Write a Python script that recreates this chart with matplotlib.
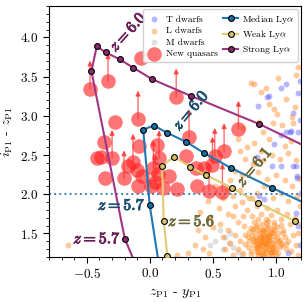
import matplotlib
matplotlib.use('Agg')
import matplotlib.pyplot as plt
import matplotlib.patheffects as pe
import numpy as np

plt.rcParams['font.family'] = 'serif'
plt.rcParams['font.serif'] = ['cmr10', 'DejaVu Serif']
plt.rcParams['mathtext.fontset'] = 'cm'
plt.rcParams['axes.formatter.use_mathtext'] = True
plt.rcParams['axes.unicode_minus'] = True

# colour tracks (zP1-yP1, iP1-zP1), markers every dz=0.1
median_x = [0.063, 0.000, -0.052, 0.032, 0.140, 0.290, 0.431, 0.643, 0.971, 1.206]
median_y = [1.205, 1.859, 2.824, 2.876, 2.782, 2.667, 2.526, 2.337, 2.081, 1.906]
median_mark = [False, True, True, True, True, True, True, True, True, False]

weak_x = [0.140, 0.111, 0.098, 0.193, 0.320, 0.450, 0.653, 0.860, 1.151, 1.300]
weak_y = [1.214, 1.654, 2.363, 2.478, 2.350, 2.240, 2.081, 1.888, 1.658, 1.540]
weak_mark = [True, True, True, True, True, True, True, True, True, False]

strong_x = [-0.137, -0.198, -0.463, -0.421, -0.349, -0.240, -0.129, 0.021, 0.328, 0.871, 1.250]
strong_y = [1.200, 1.432, 3.568, 3.885, 3.808, 3.722, 3.612, 3.465, 3.253, 2.894, 2.600]
strong_mark = [False, True, True, True, True, True, True, True, True, True, False]

# new quasars; lim = lower limit on iP1-zP1
qso_x = [-0.474, -0.331, -0.066, -0.093, -0.278, 0.210, 0.704, -0.367, -0.299, -0.415,
         -0.389, -0.352, -0.204, -0.133, -0.082, 0.061, -0.169, -0.098, -0.061, -0.093,
         0.029, 0.074, 0.066, 0.008, 0.109, 0.153, 0.220, 0.590, 0.516, 0.498,
         0.431, 0.365, 0.577, 0.471, 0.373, 0.312, 0.286, 0.045]
qso_y = [3.346, 3.440, 3.740, 2.962, 2.919, 3.244, 2.833, 2.671, 2.462, 2.462,
         2.474, 2.205, 2.201, 2.414, 2.612, 2.628, 2.363, 2.308, 2.227, 2.106,
         2.329, 2.458, 2.256, 2.106, 2.081, 2.227, 2.064, 2.547, 2.487, 2.376,
         2.333, 2.333, 2.035, 2.042, 2.106, 2.727, 2.491, 2.150]
qso_lim = [1, 1, 0, 1, 0, 1, 1, 0, 1, 0,
           0, 0, 1, 1, 0, 0, 0, 0, 0, 0,
           1, 1, 0, 0, 0, 0, 0, 1, 1, 1,
           0, 0, 1, 1, 0, 1, 0, 1]

t_x = [1.04, 1.085, 0.944, 0.86, 1.18, 1.137, 1.085, 1.11, 1.04, 1.18, 1.12, 0.934, 0.974, 1.04,
       1.16, 0.855, 1.17, 1.14, 1.17, 1.20, 1.16, 1.18, 0.907, 0.87, 1.19, 1.19, 0.99, 1.19, 1.10]
t_y = [3.35, 3.40, 3.25, 3.12, 3.29, 3.03, 2.79, 2.79, 2.75, 2.79, 2.81, 3.24, 2.36, 2.36,
       2.36, 2.47, 2.21, 2.36, 2.23, 2.02, 1.76, 1.59, 1.94, 1.98, 3.45, 2.95, 2.64, 1.35, 1.25]

l_x = [1.18, 1.02, 0.83, 0.88, 0.80, 0.92, 1.08, 1.15, 0.99, 0.95, 0.98, 1.14, 1.05, 0.90, 0.95,
       0.83, 1.07, 1.12, 0.88, 0.77, 0.70, 0.76, 0.82, 0.90, 0.97, 1.03, 1.10, 1.16, 0.68, 0.73,
       0.86, 0.93, 1.00, 1.07, 1.13, 1.19, 0.61, 0.46, 0.52, 0.58, 0.66, 0.72, 0.79, 0.85, 0.91,
       0.98, 1.04, 1.10, 1.17, 0.40, 0.48, 0.55, 0.62, 0.68, 0.74, 1.15, 1.19, 0.38, 0.44, 0.50,
       0.42, 0.36, 0.30, 0.47, -0.65, 0.22, 1.18, 0.72, 0.64, 1.13, 1.01, 0.87, 0.74, 1.16,
       0.90, 0.93, 0.88, 0.95, 0.85, 0.98, 1.00, 0.92, 0.87, 0.96, 0.82, 0.80, 1.03, 1.05, 0.99,
       0.91, 0.84, 0.78, 0.76, 1.02, 1.08, 1.07, 0.94, 0.89, 1.01, 0.86, 0.97, 0.74, 0.72, 0.79,
       0.83, 0.92, 0.99, 1.06, 1.10, 1.12, 0.70, 0.68, 0.75, 0.81, 0.88, 0.96, 1.04, 1.11, 1.14,
       0.66, 0.64, 0.62, 0.70, 0.77, 0.85, 0.93, 1.01, 1.09, 0.89, 0.93, 0.87, 0.95, 0.91, 0.84,
       0.97, 1.00, 0.90, 0.86, 0.94, 0.82, 0.88, 0.96, 1.04, 0.79, 0.92, 0.85, 0.99, 0.89, 0.83,
       1.02, 0.58, 0.60, 1.16, 1.18, 0.56, 0.66, 0.73, 0.81,
       0.91, 0.94, 0.97, 0.89, 0.86, 0.92, 0.95, 0.98, 0.88, 0.84, 0.90, 0.93, 0.96, 1.01, 0.87,
       0.81, 0.85, 0.92, 0.99, 1.03, 0.94, 0.90, 0.86, 0.97, 1.00, 0.83, 0.88, 0.95, 0.91, 0.78,
       0.80, 0.84, 0.89, 0.93, 0.98, 1.06, 1.02, 0.96, 0.87, 0.92, 0.76, 0.82, 0.94, 1.08, 0.99,
       0.88, 0.91, 0.95, 0.85, 0.93, 0.97, 0.90, 1.04, 0.80, 0.86]
l_y = [3.62, 3.48, 3.40, 3.30, 3.42, 3.36, 3.22, 3.11, 3.09, 3.15, 2.91, 2.91, 2.88, 2.79, 2.71,
       2.66, 2.62, 2.68, 2.55, 2.60, 2.70, 2.45, 2.38, 2.44, 2.50, 2.45, 2.52, 2.44, 2.30, 2.25,
       2.28, 2.20, 2.25, 2.18, 2.10, 2.20, 2.05, 1.92, 2.10, 1.95, 1.98, 2.05, 1.95, 2.02, 2.10,
       1.95, 2.02, 1.92, 1.98, 1.78, 1.70, 1.82, 1.75, 1.85, 1.72, 1.70, 1.85, 1.55, 1.45, 1.58,
       1.30, 1.35, 1.25, 1.25, 1.355, 1.22, 1.50, 2.55, 2.18, 2.98, 3.02, 2.92, 2.85, 3.52,
       1.40, 1.35, 1.30, 1.45, 1.42, 1.38, 1.30, 1.25, 1.50, 1.52, 1.35, 1.28, 1.42, 1.35, 1.47,
       1.55, 1.58, 1.45, 1.36, 1.25, 1.30, 1.45, 1.60, 1.62, 1.58, 1.22, 1.22, 1.25, 1.40, 1.52,
       1.65, 1.68, 1.65, 1.55, 1.40, 1.28, 1.30, 1.48, 1.60, 1.72, 1.75, 1.74, 1.68, 1.62, 1.48,
       1.22, 1.38, 1.55, 1.65, 1.80, 1.85, 1.82, 1.80, 1.75, 1.34, 1.43, 1.38, 1.30, 1.48, 1.46,
       1.42, 1.36, 1.28, 1.33, 1.38, 1.43, 1.45, 1.33, 1.38, 1.40, 1.32, 1.27, 1.28, 1.56, 1.52,
       1.50, 1.45, 1.30, 1.35, 1.22, 1.62, 1.72, 1.90, 1.95,
       1.37, 1.41, 1.34, 1.43, 1.37, 1.29, 1.47, 1.50, 1.24, 1.31, 1.53, 1.57, 1.26, 1.44, 1.55,
       1.47, 1.61, 1.63, 1.61, 1.33, 1.21, 1.21, 1.26, 1.56, 1.23, 1.40, 1.41, 1.49, 1.45, 1.33,
       1.57, 1.38, 1.48, 1.52, 1.32, 1.50, 1.40, 1.27, 1.44, 1.36, 1.48, 1.56, 1.66, 1.37, 1.54,
       1.35, 1.39, 1.42, 1.31, 1.47, 1.26, 1.24, 1.61, 1.24, 1.69]

m_x = [0.556, 0.60, 0.63, 0.66, 0.58, 0.70, 0.52, 0.64, 0.73, 0.48]
m_y = [1.54, 1.45, 1.38, 1.33, 1.30, 1.27, 1.40, 1.50, 1.22, 1.35]

fig = plt.figure(figsize=(3.08, 3.02), dpi=100)
ax = fig.add_axes([0.159, 0.149, 0.818, 0.831])

ax.scatter(m_x, m_y, s=18, color='grey', alpha=0.25, lw=0, label='M dwarfs', zorder=1)
ax.scatter(t_x, t_y, s=18, color='#3030ff', alpha=0.35, lw=0, label='T dwarfs', zorder=1)
ax.scatter(l_x, l_y, s=18, color='#ff7f0e', alpha=0.42, lw=0, label='L dwarfs', zorder=1)

ax.axhline(2.0, color='#3a86c0', ls=':', lw=1.4, zorder=2)

qx = np.array(qso_x)
qy = np.array(qso_y)
lim = np.array(qso_lim, dtype=bool)
ax.scatter(qx, qy, s=110, color='#ff2020', alpha=0.62, lw=0, label='New quasars', zorder=2)
for x, y in zip(qx[lim], qy[lim]):
    ax.annotate('', xy=(x, y + 0.36), xytext=(x, y),
                arrowprops=dict(arrowstyle='-|>', color='#ff3030', alpha=0.7, lw=1.0,
                                mutation_scale=7, shrinkA=0, shrinkB=0), zorder=2)

def track(xs, ys, mk, lc, fc, lab):
    xs = np.array(xs)
    ys = np.array(ys)
    mk = np.array(mk)
    ax.plot(xs, ys, color=lc, lw=1.5, zorder=3)
    ax.plot(xs[mk], ys[mk], 'o', ms=4.2, mfc=fc, mec='black', mew=0.8, ls='none', zorder=4)
    ax.plot([], [], '-o', color=lc, ms=4.2, mfc=fc, mec='black', mew=0.8, label=lab)

track(median_x, median_y, median_mark, '#1f78b4', '#1a6ea8', r'Median Ly$\alpha$')
track(weak_x, weak_y, weak_mark, '#e3cb72', '#d9c46a', r'Weak Ly$\alpha$')
track(strong_x, strong_y, strong_mark, '#a23582', '#8c2a6e', r'Strong Ly$\alpha$')

tc_strong = '#6a1f55'
tc_med = '#1e4f70'
tc_weak = '#6f6a3a'
fs = 11.5

def zlabel(x, y, s, c, **kw):
    t = ax.text(x, y, r'$z = %s$' % s, color=c, fontsize=fs, zorder=5, **kw)
    t.set_path_effects([pe.withStroke(linewidth=0.7, foreground=c)])

zlabel(-0.175, 4.07, '6.0', tc_strong, rotation=48, ha='center', va='center')
zlabel(0.325, 3.07, '6.0', tc_med, rotation=50, ha='center', va='center')
zlabel(0.828, 2.35, '6.1', tc_weak, rotation=50, ha='center', va='center')
zlabel(-0.035, 1.859, '5.7', tc_med, ha='right', va='center')
zlabel(-0.23, 1.432, '5.7', tc_strong, ha='right', va='center')
zlabel(0.145, 1.654, '5.6', tc_weak, ha='left', va='center')

ax.set_xlim(-0.8, 1.2)
ax.set_ylim(1.2, 4.4)
ax.set_xticks([-0.5, 0.0, 0.5, 1.0])
ax.set_yticks([1.5, 2.0, 2.5, 3.0, 3.5, 4.0])
ax.xaxis.set_minor_locator(matplotlib.ticker.MultipleLocator(0.1))
ax.yaxis.set_minor_locator(matplotlib.ticker.MultipleLocator(0.1))
ax.tick_params(which='both', direction='out', labelsize=9.5)
ax.tick_params(which='major', length=4)
ax.tick_params(which='minor', length=2)
ax.set_xlabel(r'$z_{\rm P1}$ - $y_{\rm P1}$', fontsize=10)
ax.set_ylabel(r'$i_{\rm P1}$ - $z_{\rm P1}$', fontsize=10)

h, l = ax.get_legend_handles_labels()
order = ['T dwarfs', 'L dwarfs', 'M dwarfs', 'New quasars',
         r'Median Ly$\alpha$', r'Weak Ly$\alpha$', r'Strong Ly$\alpha$']
hd = dict(zip(l, h))
ax.legend([hd[k] for k in order], order, loc='upper right', ncol=2, fontsize=6.8,
          handlelength=1.6, columnspacing=0.6, handletextpad=0.4, labelspacing=0.3,
          borderpad=0.4, framealpha=0.9, borderaxespad=0.3)

fig.savefig('out.png', dpi=100)
